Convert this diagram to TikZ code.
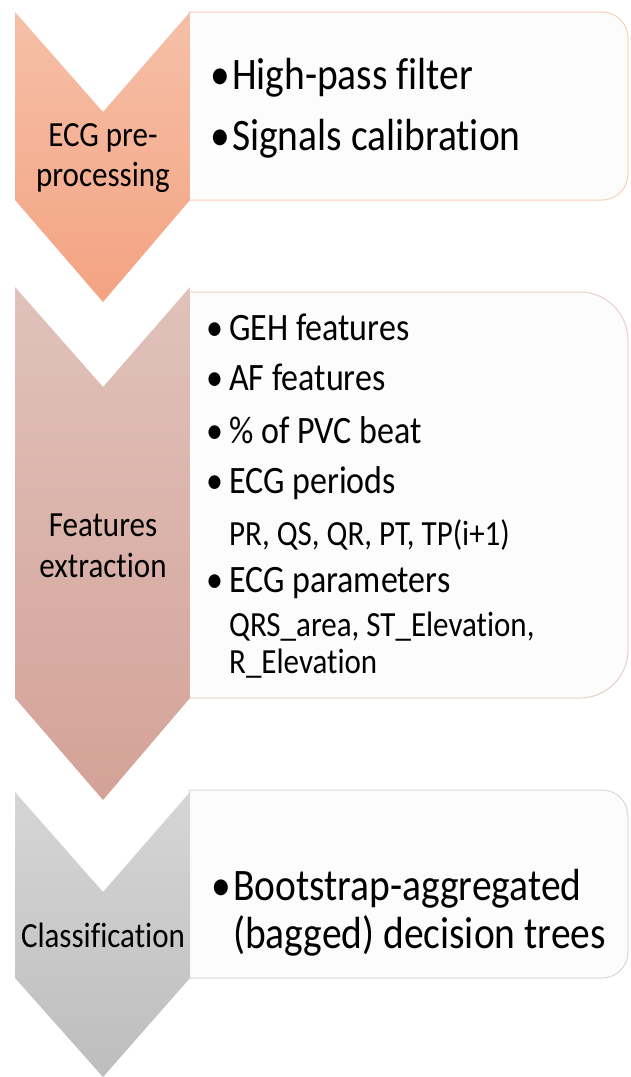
\documentclass[tikz,border=0pt]{standalone}
\usepackage{fontspec}
\setmainfont{Carlito}[Ligatures={NoCommon,NoContextual}]
\definecolor{stageAtop}{HTML}{F5C0A8}
\definecolor{stageAbot}{HTML}{F4A382}
\definecolor{stageAline}{HTML}{F8CFB7}
\definecolor{stageBtop}{HTML}{E0C2BB}
\definecolor{stageBbot}{HTML}{D4A297}
\definecolor{stageBline}{HTML}{EACFC9}
\definecolor{stageCtop}{HTML}{D6D6D6}
\definecolor{stageCbot}{HTML}{BDBDBD}
\definecolor{stageCline}{HTML}{D8D8D8}
\definecolor{panelfill}{HTML}{FCFCFC}
\begin{document}
\begin{tikzpicture}[x=1pt,y=1pt,
  panel/.style={fill=panelfill,line width=1pt},
  tall/.style={yscale=1.14,transform shape},
  label/.style={align=center,inner sep=0pt,text=black,tall},
  item/.style={anchor=base west,inner sep=0pt,text=black,tall},
  big/.style={font=\fontsize{39.5}{44}\selectfont},
  mid/.style={font=\fontsize{34}{40}\selectfont},
  small/.style={font=\fontsize{31}{37}\selectfont},
  lab/.style={font=\fontsize{31}{35.5}\selectfont}]
\useasboundingbox (0,0) rectangle (630,-1077);

% text panels (left corners square, right corners rounded)
\draw[panel,draw=stageAline] (189,-12) -- (602,-12) arc[start angle=90,end angle=0,radius=26]
  -- (628,-174) arc[start angle=0,end angle=-90,radius=26] -- (189,-200) -- cycle;
\draw[panel,draw=stageBline] (189,-292) -- (580,-292) arc[start angle=90,end angle=0,radius=48]
  -- (628,-650) arc[start angle=0,end angle=-90,radius=48] -- (189,-698) -- cycle;
\draw[panel,draw=stageCline] (189,-790) -- (602,-790) arc[start angle=90,end angle=0,radius=26]
  -- (628,-952) arc[start angle=0,end angle=-90,radius=26] -- (189,-978) -- cycle;

% chevrons
\shade[top color=stageAtop,bottom color=stageAbot]
  (15,-12) -- (103,-112) -- (190,-12) -- (190,-200) -- (103,-302) -- (15,-200) -- cycle;
\shade[top color=stageBtop,bottom color=stageBbot]
  (15,-287) -- (103,-387) -- (190,-287) -- (190,-698) -- (103,-800) -- (15,-698) -- cycle;
\shade[top color=stageCtop,bottom color=stageCbot]
  (15,-792) -- (103,-892) -- (190,-792) -- (190,-978) -- (103,-1077) -- (15,-978) -- cycle;

% stage names
\node[label,lab] (pre) at (103,-158) {ECG pre-\\processing};
\node[label,lab] (feat) at (103,-546) {Features\\extraction};
\node[label,lab] (cls) at (103,-935) {Classification};

% stage 1 items
\node[item,big] (hp) at (232,-89) {\llap{•\hspace{2pt}}High-pass filter};
\node[item,big] (cal) at (232,-150) {\llap{•\hspace{2pt}}Signals calibration};

% stage 2 items
\node[item,mid] (geh) at (229,-340) {\llap{•\hspace{6pt}}GEH features};
\node[item,mid] (af) at (229,-390) {\llap{•\hspace{6pt}}AF features};
\node[item,mid] (pvc) at (229,-443) {\llap{•\hspace{6pt}}\% of PVC beat};
\node[item,mid] (per) at (229,-493) {\llap{•\hspace{6pt}}ECG periods};
\node[item,small] (perl) at (229,-545) {PR, QS, QR, PT, TP(i+1)};
\node[item,mid] (par) at (229,-592) {\llap{•\hspace{6pt}}ECG parameters};
\node[item,small] (parl) at (229,-636) {QRS\_area, ST\_Elevation,};
\node[item,small] (parm) at (229,-673) {R\_Elevation};

% stage 3 items
\node[item,big] (bag) at (233,-900) {\llap{•\hspace{2pt}}Bootstrap-aggregated};
\node[item,big] (bagl) at (233,-948) {(bagged) decision trees};
\end{tikzpicture}
\end{document}
